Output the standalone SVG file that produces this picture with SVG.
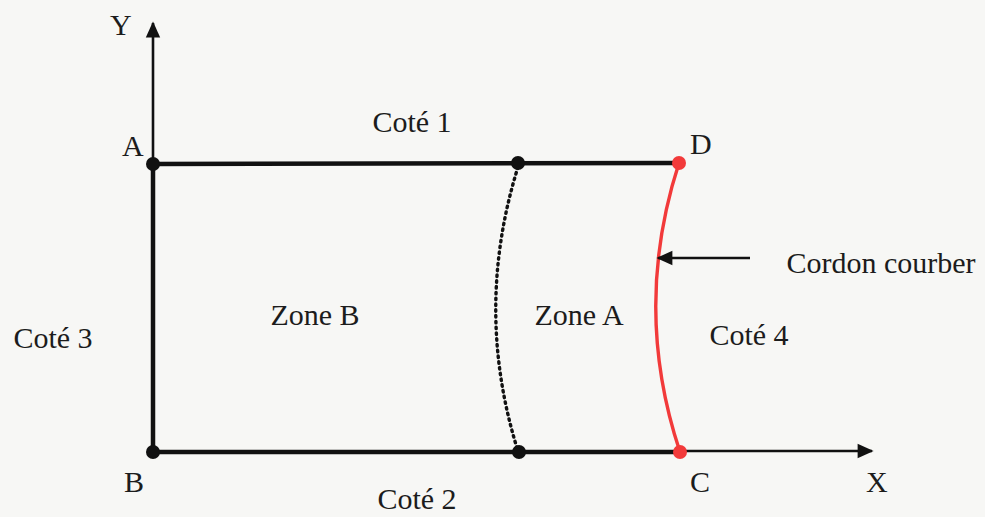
<svg xmlns="http://www.w3.org/2000/svg" width="985" height="517" viewBox="0 0 985 517">
<style>
text{font-family:"Liberation Serif","DejaVu Serif","Times New Roman",serif;font-size:30px;fill:#1c1c1c}
.axis{stroke:#111;stroke-width:2.6;fill:none}
.edge{stroke:#111;stroke-width:4.5;fill:none}
.dot{fill:#111}
.rdot{fill:#f23a3a}
</style>
<defs>
<marker id="ahb" viewBox="0 0 10 10" refX="9" refY="5" markerWidth="17" markerHeight="16" markerUnits="userSpaceOnUse" orient="auto">
<path d="M0,0.5 L10,5 L0,9.5 z" fill="#111"/>
</marker>
</defs>
<rect width="985" height="517" fill="#f7f7f5"/>
<g id="connectors">
<line class="axis" x1="153" y1="164" x2="153" y2="23" marker-end="url(#ahb)"/>
<line class="axis" x1="680" y1="451" x2="872" y2="451" marker-end="url(#ahb)"/>
<line class="edge" x1="153" y1="164" x2="679" y2="163"/>
<line class="edge" x1="153" y1="164" x2="153" y2="453"/>
<line class="edge" x1="153" y1="452" x2="680" y2="452"/>
<path d="M518,167 Q474,308 517,448" fill="none" stroke="#111" stroke-width="3.4" stroke-dasharray="1.5,4.3" stroke-linecap="round"/>
<path d="M679,163 Q632,308 680,452" fill="none" stroke="#f23a3a" stroke-width="3.4"/>
<line stroke="#111" stroke-width="2.4" x1="750" y1="258" x2="658" y2="258" marker-end="url(#ahb)"/>
</g>
<g id="A"><circle class="dot" cx="153" cy="164" r="7"/><text x="122" y="156">A</text></g>
<g id="B"><circle class="dot" cx="153" cy="452" r="7"/><text x="124" y="492">B</text></g>
<g id="C"><circle class="rdot" cx="680" cy="452" r="7"/><text x="690" y="492">C</text></g>
<g id="D"><circle class="rdot" cx="679" cy="163" r="7"/><text x="690" y="154">D</text></g>
<g id="M1"><circle class="dot" cx="518" cy="163" r="7"/></g>
<g id="M2"><circle class="dot" cx="519" cy="452" r="7"/></g>
<g id="Y"><text x="110" y="35">Y</text></g>
<g id="X"><text x="866" y="492">X</text></g>
<g id="labels">
<text x="412" y="132" text-anchor="middle">Coté 1</text>
<text x="417" y="509" text-anchor="middle">Coté 2</text>
<text x="53" y="348" text-anchor="middle">Coté 3</text>
<text x="749" y="345" text-anchor="middle">Coté 4</text>
<text x="315" y="325" text-anchor="middle">Zone B</text>
<text x="579" y="325" text-anchor="middle">Zone A</text>
<text x="881" y="273" text-anchor="middle">Cordon courber</text>
</g>
</svg>
